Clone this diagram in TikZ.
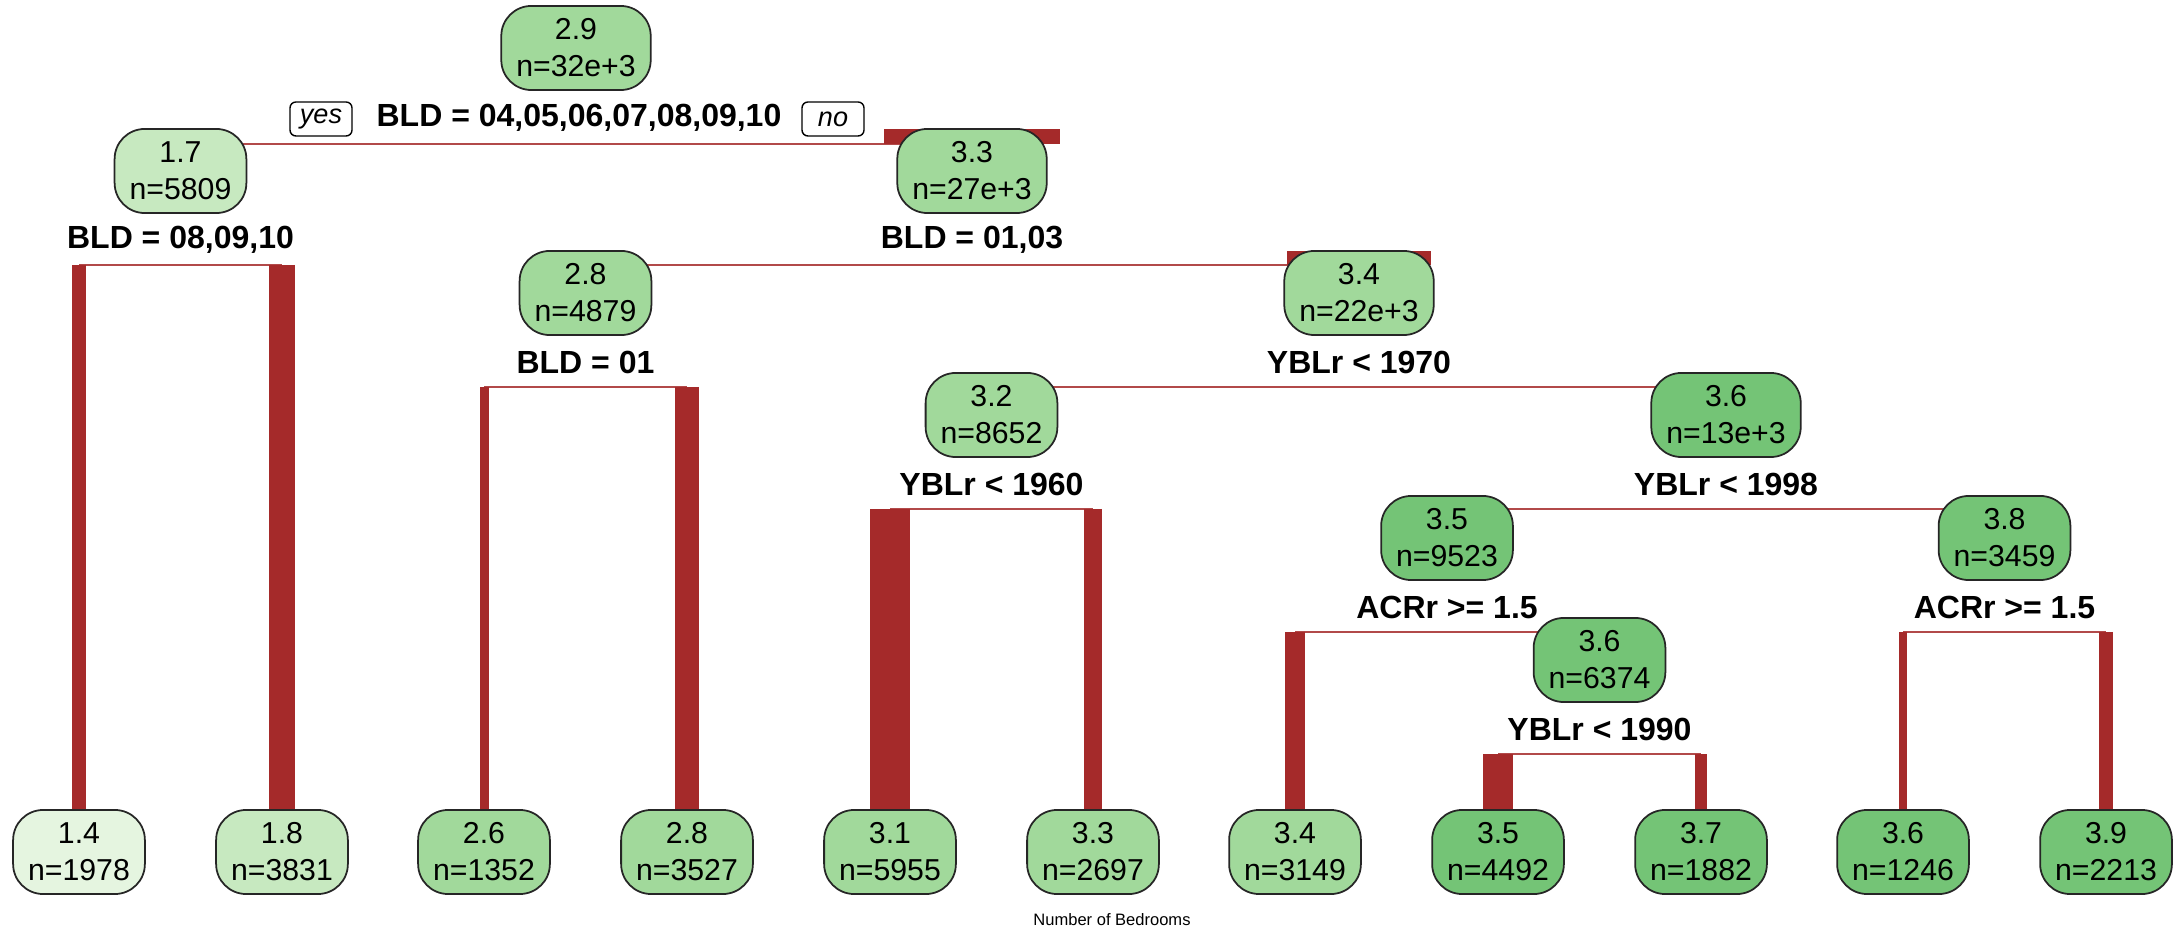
\documentclass[tikz,border=0pt]{standalone}
\usepackage{fontspec}
\setmainfont{Liberation Sans}

\definecolor{brn}{HTML}{A52A2A}
\definecolor{grA}{HTML}{E5F5E0}
\definecolor{grB}{HTML}{C7E9C0}
\definecolor{grC}{HTML}{A1D99B}
\definecolor{grD}{HTML}{74C476}

\begin{document}
\begin{tikzpicture}[x=0.01cm, y=-0.01cm,
    box/.style={draw=black!85, line width=0.5pt, rounded corners=0.3cm, align=center,
        inner xsep=0.15cm, inner ysep=0pt, minimum height=0.84cm,
        font=\fontsize{8.6}{10.5}\selectfont},
    cut/.style={inner sep=0pt, font=\fontsize{9.1}{11}\selectfont\bfseries},
    yn/.style={draw, line width=0.4pt, rounded corners=0.06cm, inner sep=0pt,
        minimum width=0.62cm, minimum height=0.34cm, font=\fontsize{7.7}{9}\selectfont\itshape},
    hline/.style={draw=brn!85, line width=0.4pt},
    % width by n, given in hundreds
    branch/.style={draw=brn, line width={#1*0.1892pt}}
]
    \useasboundingbox (0,0) rectangle (2182,928);

    % Split levels
    \coordinate (sroot) at (576,144);
    \coordinate (s17) at (180.5,265);
    \coordinate (s33) at (972,265);
    \coordinate (s28) at (585.5,387);
    \coordinate (s34) at (1359,387);
    \coordinate (s32) at (991.5,509);
    \coordinate (s36) at (1726,509);
    \coordinate (s35) at (1447,632);
    \coordinate (s38) at (2004.5,632);
    \coordinate (se36) at (1599.5,754);

    % Leaves
    \node[box, fill=grA] (l14) at (79,852) {1.4\\n=1978};
    \node[box, fill=grB] (l18) at (282,852) {1.8\\n=3831};
    \node[box, fill=grC] (l26) at (484,852) {2.6\\n=1352};
    \node[box, fill=grC] (l28) at (687,852) {2.8\\n=3527};
    \node[box, fill=grC] (l31) at (890,852) {3.1\\n=5955};
    \node[box, fill=grC] (l33) at (1093,852) {3.3\\n=2697};
    \node[box, fill=grC] (l34) at (1295,852) {3.4\\n=3149};
    \node[box, fill=grD] (l35) at (1498,852) {3.5\\n=4492};
    \node[box, fill=grD] (l37) at (1701,852) {3.7\\n=1882};
    \node[box, fill=grD] (l36) at (1903,852) {3.6\\n=1246};
    \node[box, fill=grD] (l39) at (2106,852) {3.9\\n=2213};

    % Inner node centres
    \path (180.5,171) coordinate (a17) (972,171) coordinate (a33)
          (585.5,293) coordinate (b28) (1359,293) coordinate (b34)
          (991.5,415) coordinate (c32) (1726,415) coordinate (c36)
          (1447,538) coordinate (d35) (2004.5,538) coordinate (d38)
          (1599.5,660) coordinate (e36);

    % Horizontal split lines
    \draw[hline] (a17 |- sroot) -- (a33 |- sroot);
    \draw[hline] (l14 |- s17) -- (l18 |- s17);
    \draw[hline] (b28 |- s33) -- (b34 |- s33);
    \draw[hline] (l26 |- s28) -- (l28 |- s28);
    \draw[hline] (c32 |- s34) -- (c36 |- s34);
    \draw[hline] (l31 |- s32) -- (l33 |- s32);
    \draw[hline] (d35 |- s36) -- (d38 |- s36);
    \draw[hline] (l34 |- s35) -- (e36 |- s35);
    \draw[hline] (l36 |- s38) -- (l39 |- s38);
    \draw[hline] (l35 |- se36) -- (l37 |- se36);

    % Branches
    \draw[branch=58.09] (a17 |- sroot) -- ([yshift=0.42cm]a17);
    \draw[branch=265.13] (a33 |- sroot) -- ([yshift=0.42cm]a33);
    \draw[branch=19.78] (l14 |- s17) -- (l14.north);
    \draw[branch=38.31] (l18 |- s17) -- (l18.north);
    \draw[branch=48.79] (b28 |- s33) -- ([yshift=0.42cm]b28);
    \draw[branch=216.34] (b34 |- s33) -- ([yshift=0.42cm]b34);
    \draw[branch=13.52] (l26 |- s28) -- (l26.north);
    \draw[branch=35.27] (l28 |- s28) -- (l28.north);
    \draw[branch=86.52] (c32 |- s34) -- ([yshift=0.42cm]c32);
    \draw[branch=129.82] (c36 |- s34) -- ([yshift=0.42cm]c36);
    \draw[branch=59.55] (l31 |- s32) -- (l31.north);
    \draw[branch=26.97] (l33 |- s32) -- (l33.north);
    \draw[branch=95.23] (d35 |- s36) -- ([yshift=0.42cm]d35);
    \draw[branch=34.59] (d38 |- s36) -- ([yshift=0.42cm]d38);
    \draw[branch=31.49] (l34 |- s35) -- (l34.north);
    \draw[branch=63.74] (e36 |- s35) -- ([yshift=0.42cm]e36);
    \draw[branch=12.46] (l36 |- s38) -- (l36.north);
    \draw[branch=22.13] (l39 |- s38) -- (l39.north);
    \draw[branch=44.92] (l35 |- se36) -- (l35.north);
    \draw[branch=18.82] (l37 |- se36) -- (l37.north);

    % Inner nodes
    \node[box, fill=grC] (root) at (576,48) {2.9\\n=32e+3};
    \node[box, fill=grB] (n17) at (a17) {1.7\\n=5809};
    \node[box, fill=grC] (n33) at (a33) {3.3\\n=27e+3};
    \node[box, fill=grC] (n28) at (b28) {2.8\\n=4879};
    \node[box, fill=grC] (n34) at (b34) {3.4\\n=22e+3};
    \node[box, fill=grC] (n32) at (c32) {3.2\\n=8652};
    \node[box, fill=grD] (n36) at (c36) {3.6\\n=13e+3};
    \node[box, fill=grD] (n35) at (d35) {3.5\\n=9523};
    \node[box, fill=grD] (n38) at (d38) {3.8\\n=3459};
    \node[box, fill=grD] (m36) at (e36) {3.6\\n=6374};

    % Split rules
    \node[cut] (troot) at (579,118) {BLD = 04,05,06,07,08,09,10};
    \node[yn] (yes) at (321,119) {yes};
    \node[yn] (no) at (833,119) {no};
    \node[cut] (t17) at (180.5,240) {BLD = 08,09,10};
    \node[cut] (t33) at (972,240) {BLD = 01,03};
    \node[cut] (t28) at (585.5,362) {BLD = 01};
    \node[cut] (t34) at (1359,362) {YBLr < 1970};
    \node[cut] (t32) at (991.5,484) {YBLr < 1960};
    \node[cut] (t36) at (1726,484) {YBLr < 1998};
    \node[cut] (t35) at (1447,607) {ACRr >= 1.5};
    \node[cut] (t38) at (2004.5,607) {ACRr >= 1.5};
    \node[cut] (te36) at (1599.5,729) {YBLr < 1990};

    % Caption
    \node[inner sep=0pt, font=\fontsize{4.7}{5.5}\selectfont] (cap) at (1112,920) {Number of Bedrooms};
\end{tikzpicture}
\end{document}
